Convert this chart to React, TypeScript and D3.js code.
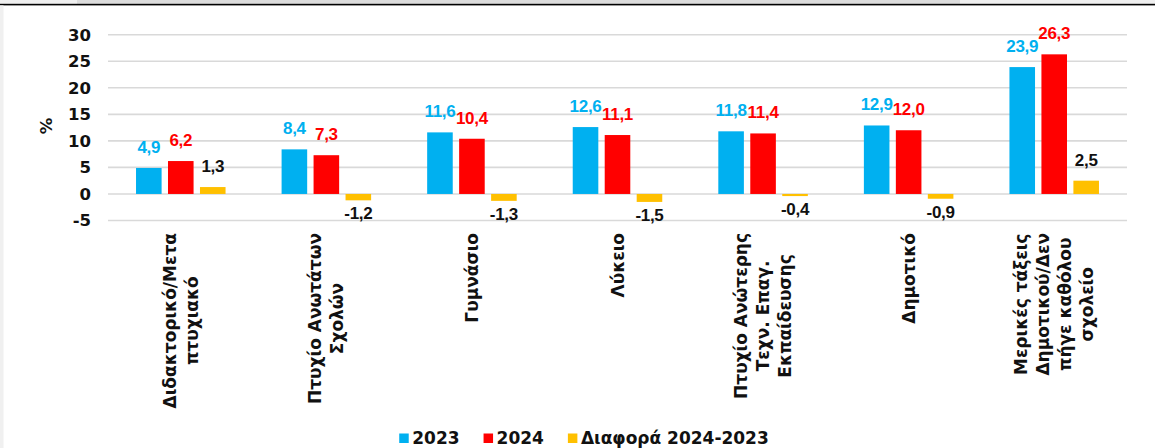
import React, { useEffect, useRef } from 'react'
import * as d3 from 'd3'

const categories = [
  'Διδακτορικό/Μετα\nπτυχιακό',
  'Πτυχίο Ανωτάτων\nΣχολών',
  'Γυμνάσιο',
  'Λύκειο',
  'Πτυχίο Ανώτερης\nΤεχν. Επαγ.\nΕκπαίδευσης',
  'Δημοτικό',
  'Μερικές τάξεις\nΔημοτικού/Δεν\nπήγε καθόλου\nσχολείο',
]
const seriesNames = ['2023', '2024', 'Διαφορά 2024-2023']
const values2023 = [4.9, 8.4, 11.6, 12.6, 11.8, 12.9, 23.9]
const values2024 = [6.2, 7.3, 10.4, 11.1, 11.4, 12.0, 26.3]
const valuesDiff = [1.3, -1.2, -1.3, -1.5, -0.4, -0.9, 2.5]
const yTicks = [-5, 0, 5, 10, 15, 20, 25, 30]

const colors = ['#00b0f0', '#ff0000', '#ffc000']
const labelColors = ['#00b0f0', '#ff0000', '#111111']
const FONT = '"DejaVu Sans", sans-serif'
const NUM_FONT = '"Liberation Sans", Arial, sans-serif'

const App = () => {
  const ref = useRef<SVGSVGElement>(null)

  useEffect(() => {
    const width = 1155
    const height = 448
    const left = 108
    const right = 1127

    const svg = d3.select(ref.current)
    svg.selectAll('*').remove()

    // window chrome remnants at the top
    svg.append('rect').attr('x', 0).attr('y', 0).attr('width', width).attr('height', 4).attr('fill', '#efefef')
    svg.append('rect').attr('x', 77).attr('y', 0).attr('width', 883).attr('height', 4).attr('fill', '#dcdcdc')
    svg.append('rect').attr('x', 0).attr('y', 3.8).attr('width', width).attr('height', 1.6).attr('fill', '#000')
    svg.append('rect').attr('x', 0).attr('y', 5.4).attr('width', 3.5).attr('height', height).attr('fill', '#f0f0f0')

    const y = d3.scaleLinear().domain([-5, 30]).range([220.5, 34.7])
    const x0 = d3.scaleBand<number>()
      .domain(d3.range(categories.length))
      .range([left, right])
      .paddingInner(0.385)
      .paddingOuter(0.1925)
    const x1 = d3.scaleBand<number>()
      .domain([0, 1, 2])
      .range([0, x0.bandwidth()])
      .paddingInner(0.2)

    // gridlines
    svg.append('g')
      .selectAll('line')
      .data(yTicks)
      .enter()
      .append('line')
      .attr('x1', left)
      .attr('x2', right)
      .attr('y1', d => y(d))
      .attr('y2', d => y(d))
      .attr('stroke', '#d9d9d9')
      .attr('stroke-width', 1.6)

    // y axis tick labels
    svg.append('g')
      .selectAll('text')
      .data(yTicks)
      .enter()
      .append('text')
      .attr('x', 91)
      .attr('y', d => y(d))
      .attr('dy', '0.36em')
      .attr('text-anchor', 'end')
      .attr('font-family', FONT)
      .attr('font-weight', 700)
      .attr('font-size', 16.5)
      .attr('fill', '#111')
      .text(d => String(d))

    svg.append('text')
      .attr('transform', 'translate(46,126) rotate(-90)')
      .attr('text-anchor', 'middle')
      .attr('dy', '0.36em')
      .attr('font-family', FONT)
      .attr('font-weight', 700)
      .attr('font-size', 16.5)
      .attr('fill', '#111')
      .text('%')

    const seriesValues = [values2023, values2024, valuesDiff]
    const fmt = (v: number) => v.toFixed(1).replace('.', ',')

    seriesValues.forEach((vals, s) => {
      const g = svg.append('g')
      g.selectAll('rect')
        .data(vals)
        .enter()
        .append('rect')
        .attr('x', (d, i) => (x0(i) as number) + (x1(s) as number))
        .attr('width', x1.bandwidth())
        .attr('y', d => y(Math.max(0, d)))
        .attr('height', d => Math.abs(y(d) - y(0)))
        .attr('fill', colors[s])

      g.selectAll('text')
        .data(vals)
        .enter()
        .append('text')
        .attr('x', (d, i) => (x0(i) as number) + (x1(s) as number) + x1.bandwidth() / 2)
        .attr('y', d => d >= 0 ? y(d) - 15 : y(d) + 19)
        .attr('text-anchor', 'middle')
        .attr('font-family', NUM_FONT)
        .attr('font-weight', 700)
        .attr('font-size', 17)
        .attr('letter-spacing', -0.3)
        .attr('fill', labelColors[s])
        .text(d => fmt(d))
    })

    // category labels, rotated, block aligned to the top, lines centred
    const labelTop = 233
    const lineGap = 22
    categories.forEach((cat, i) => {
      const lines = cat.split('\n')
      const cx = (x0(i) as number) + x0.bandwidth() / 2
      const g = svg.append('g').attr('transform', `translate(${cx},${labelTop}) rotate(-90)`)
      const texts = g.selectAll('text')
        .data(lines)
        .enter()
        .append('text')
        .attr('y', (d, k) => (k - (lines.length - 1) / 2) * lineGap)
        .attr('dy', '0.36em')
        .attr('text-anchor', 'middle')
        .attr('font-family', FONT)
        .attr('font-weight', 700)
        .attr('font-size', 17)
        .attr('fill', '#111')
        .text(d => d)
      let maxW = 0
      texts.each(function () {
        maxW = Math.max(maxW, (this as SVGTextElement).getComputedTextLength())
      })
      texts.attr('x', -maxW / 2)
    })

    // legend
    const legend = svg.append('g')
    const items = legend.selectAll('g')
      .data(seriesNames)
      .enter()
      .append('g')
    items.append('rect')
      .attr('width', 9.5)
      .attr('height', 9.5)
      .attr('y', -10.5)
      .attr('fill', (d, i) => colors[i])
    items.append('text')
      .attr('x', 13)
      .attr('font-family', FONT)
      .attr('font-weight', 700)
      .attr('font-size', 17)
      .attr('fill', '#111')
      .text(d => d)
    const widths: number[] = []
    items.each(function () {
      widths.push(13 + (d3.select(this).select('text').node() as SVGTextElement).getComputedTextLength())
    })
    const gap = 24
    const total = d3.sum(widths) + gap * (widths.length - 1)
    let cur = 584 - total / 2
    items.attr('transform', (d, i) => {
      const t = `translate(${cur},444)`
      cur += widths[i] + gap
      return t
    })
  }, [])

  return (
    <svg
      ref={ref}
      width={1155}
      height={448}
      style={{ position: 'absolute', left: 0, top: 0, background: '#fff', display: 'block' }}
    />
  )
}

export default App
